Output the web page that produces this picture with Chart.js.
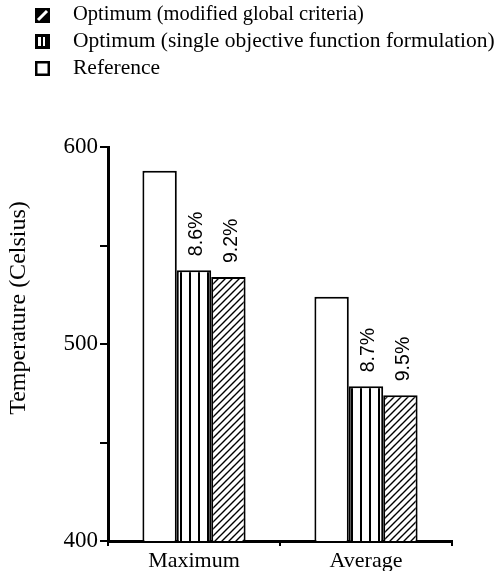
<!DOCTYPE html>
<html>
<head>
<meta charset="utf-8">
<script src="https://cdn.jsdelivr.net/npm/chart.js@4.4.0/dist/chart.umd.min.js"></script>
<style>
  html, body { margin: 0; padding: 0; background: #fff; }
  #wrap { width: 499px; height: 571px; }
</style>
</head>
<body>
<div id="wrap"><canvas id="chart"></canvas></div>
<script>
// values
const categories = ["Maximum", "Average"];
const referenceTemps = [588, 524];
const singleObjTemps = [537.5, 478.5];
const globalCritTemps = [534, 474];
const singleObjPct = ["8.6%", "8.7%"];
const globalCritPct = ["9.2%", "9.5%"];
const yTicksShown = [400, 500, 600];
const yTitle = "Temperature (Celsius)";

const serif = "'Liberation Serif', 'Times New Roman', serif";
const sans = "'Liberation Sans', Arial, sans-serif";

// vertical stripes
function stripePattern() {
  const c = document.createElement("canvas");
  c.width = 9; c.height = 9;
  const g = c.getContext("2d");
  g.fillStyle = "#fff";
  g.fillRect(0, 0, 9, 9);
  g.fillStyle = "#000";
  g.fillRect(0, 0, 2, 9);
  return g.createPattern(c, "repeat");
}

// diagonal hatch ////
function hatchPattern() {
  const s = 7;
  const c = document.createElement("canvas");
  c.width = s; c.height = s;
  const g = c.getContext("2d");
  g.fillStyle = "#fff";
  g.fillRect(0, 0, s, s);
  g.strokeStyle = "#000";
  g.lineWidth = 1.4;
  g.beginPath();
  g.moveTo(-1, s + 1); g.lineTo(s + 1, -1);
  g.moveTo(-1, 1); g.lineTo(1, -1);
  g.moveTo(s - 1, s + 1); g.lineTo(s + 1, s - 1);
  g.stroke();
  return g.createPattern(c, "repeat");
}

const ctx = document.getElementById("chart").getContext("2d");

// legend drawn by hand: boxes differ from the bar fills
const legendPlugin = {
  id: "paperLegend",
  afterDraw(chart) {
    const c = chart.ctx;
    const ds = chart.data.datasets;
    const rows = [
      { label: ds[2].label, y: 15, kind: "hatch", size: 20.5 },
      { label: ds[1].label, y: 41, kind: "stripe", size: 21.5 },
      { label: ds[0].label, y: 68, kind: "plain", size: 21.5 },
    ];
    c.save();
    rows.forEach((r) => {
      const x = 35, y = r.y - 7, s = 15;
      if (r.kind === "plain") {
        c.fillStyle = "#fff";
        c.fillRect(x, y, s, s);
        c.strokeStyle = "#000";
        c.lineWidth = 2.5;
        c.strokeRect(x + 1.25, y + 1.25, s - 2.5, s - 2.5);
      } else if (r.kind === "stripe") {
        c.fillStyle = "#000";
        c.fillRect(x, y, s, s);
        c.fillStyle = "#fff";
        c.fillRect(x + 3, y + 3, 3, s - 6);
        c.fillRect(x + 8, y + 3, 2, s - 6);
      } else {
        c.fillStyle = "#000";
        c.fillRect(x, y, s, s);
        c.strokeStyle = "#fff";
        c.lineWidth = 3;
        c.beginPath();
        c.moveTo(x + 3, y + s - 3);
        c.lineTo(x + s - 3, y + 3);
        c.stroke();
      }
      c.fillStyle = "#000";
      c.font = r.size + "px " + serif;
      c.textBaseline = "middle";
      c.textAlign = "left";
      c.fillText(r.label, 73, r.y);
    });
    c.restore();
  },
};

// percent labels above the optimum bars, plus the y title
const notesPlugin = {
  id: "notes",
  afterDatasetsDraw(chart) {
    const c = chart.ctx;
    c.save();
    c.fillStyle = "#000";
    c.font = "19.5px " + sans;
    c.textBaseline = "middle";
    c.textAlign = "left";
    [[1, singleObjPct], [2, globalCritPct]].forEach(([i, labels]) => {
      chart.getDatasetMeta(i).data.forEach((bar, j) => {
        c.save();
        c.translate(bar.x + 3, bar.y - 14);
        c.rotate(-Math.PI / 2);
        c.fillText(labels[j], 0, 0);
        c.restore();
      });
    });
    c.font = "24px " + serif;
    c.textAlign = "center";
    c.translate(19, 308);
    c.rotate(-Math.PI / 2);
    c.fillText(yTitle, 0, 0);
    c.restore();
  },
};

new Chart(ctx, {
  type: "bar",
  data: {
    labels: categories,
    datasets: [
      {
        label: "Reference",
        data: referenceTemps,
        backgroundColor: "#fff",
      },
      {
        label: "Optimum (single objective function formulation)",
        data: singleObjTemps,
        backgroundColor: stripePattern(),
      },
      {
        label: "Optimum (modified global criteria)",
        data: globalCritTemps,
        backgroundColor: hatchPattern(),
      },
    ],
  },
  options: {
    responsive: true,
    maintainAspectRatio: false,
    animation: false,
    datasets: {
      bar: {
        borderColor: "#000",
        borderWidth: 2,
        borderSkipped: false,
        categoryPercentage: 0.6,
        barPercentage: 1.0,
      },
    },
    layout: { padding: { top: 147, right: 47, left: 0, bottom: 0 } },
    plugins: {
      legend: { display: false },
      tooltip: { enabled: false },
    },
    scales: {
      x: {
        offset: true,
        grid: {
          offset: true,
          drawOnChartArea: false,
          tickLength: 5,
          tickColor: "#000",
          lineWidth: 2,
        },
        border: { color: "#000", width: 3 },
        ticks: {
          color: "#000",
          font: { family: serif, size: 22 },
          padding: 2,
        },
        afterFit(scale) { scale.height = 30; },
      },
      y: {
        min: 400,
        max: 600,
        grid: {
          drawOnChartArea: false,
          tickLength: 8,
          tickColor: "#000",
          lineWidth: 2,
        },
        border: { color: "#000", width: 3 },
        ticks: {
          stepSize: 50,
          color: "#000",
          padding: 2,
          font: { family: serif, size: 23 },
          callback: (v) => (yTicksShown.includes(v) ? String(v) : ""),
        },
        afterFit(scale) { scale.width = 108; },
      },
    },
  },
  plugins: [legendPlugin, notesPlugin],
});
</script>
</body>
</html>
